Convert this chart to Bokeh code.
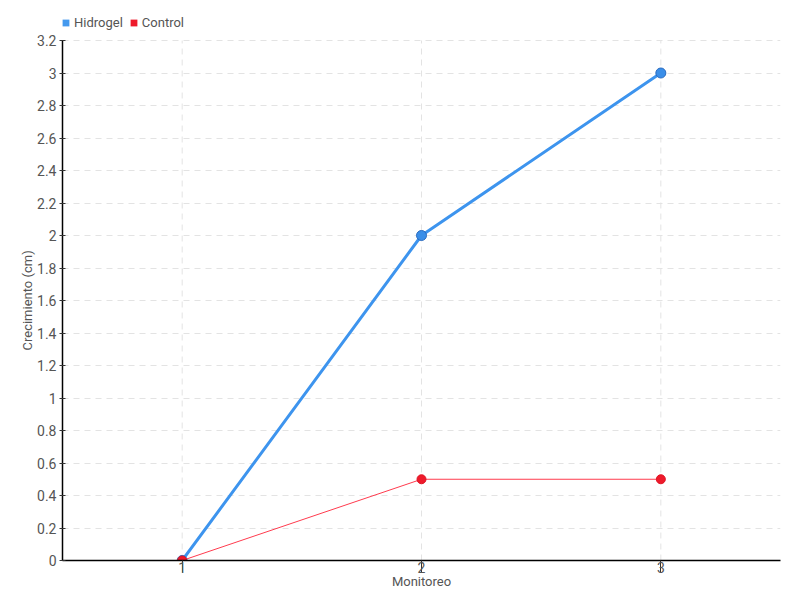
from bokeh.plotting import figure
from bokeh.models import Range1d, FixedTicker, Legend, LegendItem, ColumnDataSource, Title
from bokeh.embed import file_html
from bokeh.resources import INLINE

monitoreo = [1, 2, 3]
hidrogel = [0, 2, 3]
control = [0, 0.5, 0.5]
y_ticks = [0, 0.2, 0.4, 0.6, 0.8, 1, 1.2, 1.4, 1.6, 1.8, 2, 2.2, 2.4, 2.6, 2.8, 3, 3.2]
y_labels = ["0", "0.2", "0.4", "0.6", "0.8", "1", "1.2", "1.4", "1.6", "1.8", "2",
            "2.2", "2.4", "2.6", "2.8", "3", "3.2"]

FONT = "Roboto"
TXT = "#555555"
BLUE = "#3d94ee"
RED = "#ee1a2b"

# frame spans from y=10 to y=560 px; the axis itself runs 40..560 px
FRAME_TOP, AXIS_TOP, FRAME_BOTTOM = 10, 40, 560
y_end = y_ticks[-1] * (FRAME_BOTTOM - FRAME_TOP) / (FRAME_BOTTOM - AXIS_TOP)

p = figure(width=800, height=600, output_backend="svg", toolbar_location=None,
           x_range=Range1d(0.5, 3.5), y_range=Range1d(0, y_end),
           min_border_left=62, min_border_right=20, min_border_top=FRAME_TOP,
           min_border_bottom=40)
p.outline_line_color = None

# grids
p.xgrid.visible = False
p.ygrid.grid_line_color = "#e3e3e3"
p.ygrid.grid_line_dash = "6 5"
p.segment(x0=monitoreo, y0=[0] * len(monitoreo), x1=monitoreo,
          y1=[y_ticks[-1]] * len(monitoreo), line_color="#e3e3e3", line_dash="6 5")

# axes
p.xaxis.ticker = FixedTicker(ticks=monitoreo)
p.yaxis.ticker = FixedTicker(ticks=y_ticks)
p.yaxis.bounds = (0, y_ticks[-1])
p.yaxis.major_label_overrides = {t: l for t, l in zip(y_ticks, y_labels)}
for ax in (p.xaxis[0], p.yaxis[0]):
    ax.axis_line_color = "black"
    ax.axis_line_width = 1.5
    ax.major_tick_line_color = "#333333"
    ax.minor_tick_line_color = None
    ax.major_label_text_font = FONT
    ax.major_label_text_color = TXT
    ax.major_label_text_font_size = "14px"
    ax.axis_label_text_font = FONT
    ax.axis_label_text_color = TXT
    ax.axis_label_text_font_size = "13px"
    ax.axis_label_text_font_style = "normal"

p.xaxis.major_tick_in = 0
p.xaxis.major_tick_out = 12
p.xaxis.major_label_standoff = -11
p.xaxis.axis_label = "Monitoreo"
p.xaxis.axis_label_standoff = -2

p.yaxis.major_tick_in = 3
p.yaxis.major_tick_out = 3
p.yaxis.major_label_standoff = 3

ylab = Title(text="Crecimiento (cm)", align="left", offset=210, standoff=0,
             text_font=FONT, text_color=TXT, text_font_size="13px", text_font_style="normal")
p.add_layout(ylab, "left")

# series
src_h = ColumnDataSource(dict(x=monitoreo, y=hidrogel))
src_c = ColumnDataSource(dict(x=monitoreo, y=control))
p.line("x", "y", source=src_h, line_color=BLUE, line_width=3)
p.scatter("x", "y", source=src_h, size=10, fill_color="#3a8ee8", line_color="#2b6cc0", line_width=1)
p.line("x", "y", source=src_c, line_color="#ff3b4e", line_width=1)
p.scatter("x", "y", source=src_c, size=9, fill_color=RED, line_color="#e01525", line_width=1)

# legend swatches (zero-size squares on the series, only the legend shows them)
lh = p.scatter("x", "y", source=src_h, marker="square", size=0, fill_color="#4499ee", line_color=None)
lc = p.scatter("x", "y", source=src_c, marker="square", size=0, fill_color=RED, line_color=None)
legend = Legend(items=[LegendItem(label="Hidrogel", renderers=[lh]),
                       LegendItem(label="Control", renderers=[lc])],
                orientation="horizontal", location=(-5, FRAME_BOTTOM - 31),
                glyph_width=17, glyph_height=17, label_standoff=0, spacing=2,
                padding=0, margin=0, border_line_color=None, background_fill_alpha=0,
                label_text_font=FONT, label_text_color=TXT, label_text_font_size="13px",
                label_height=17)
p.add_layout(legend, "center")

open("out.html", "w").write(file_html(p, INLINE))
